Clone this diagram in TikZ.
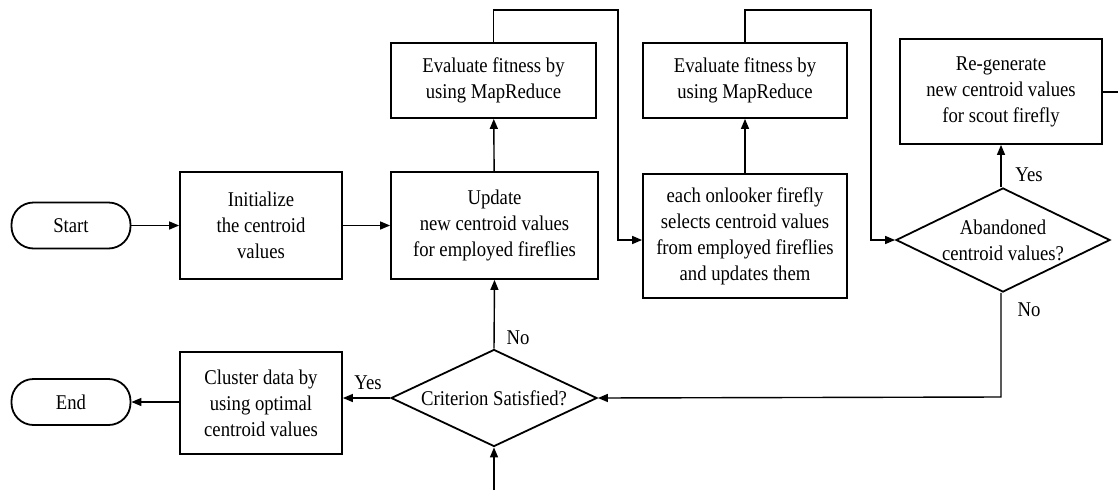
\documentclass[tikz,border=0pt]{standalone}
\usepackage{fontspec}
\setmainfont{Liberation Serif}[FakeStretch=0.89]
\usetikzlibrary{shapes.geometric,arrows.meta}
\begin{document}
\begin{tikzpicture}[x=1pt,y=-1pt,
  every node/.style={font=\fontsize{21}{26}\selectfont},
  box/.style={draw,line width=1.8pt,align=center,inner sep=0pt},
  term/.style={draw,line width=1.8pt,rounded corners=22pt,minimum width=119pt,minimum height=46pt,inner sep=0pt},
  dec/.style={draw,line width=1.8pt,diamond,shape aspect=2.2,inner sep=0pt,align=center},
  conn/.style={line width=1.4pt,-{Triangle[length=10pt,width=8pt]}},
  plain/.style={line width=1.4pt},
  lbl/.style={inner sep=0pt}
]
\useasboundingbox (0,0) rectangle (1118,490);
\node[term] (start) at (71,225.5) {Start};
\node[box,minimum width=162pt,minimum height=107pt] (init) at (261,225.5) {Initialize\\the centroid\\values};
\node[box,minimum width=207pt,minimum height=107pt] (update) at (494.5,225.5) {Update\\new centroid values\\for employed fireflies};
\node[box,minimum width=205pt,minimum height=75pt] (eval1) at (493.5,80.5) {Evaluate fitness by\\using MapReduce};
\node[box,minimum width=204pt,minimum height=124pt] (onlook) at (745,236) {each onlooker firefly\\selects centroid values\\from employed fireflies\\and updates them};
\node[box,minimum width=204pt,minimum height=75pt] (eval2) at (745,80.5) {Evaluate fitness by\\using MapReduce};
\node[box,minimum width=202pt,minimum height=105pt] (regen) at (1001,91.5) {Re-generate\\new centroid values\\for scout firefly};
\node[dec,minimum width=214pt,minimum height=104pt] (aband) at (1003,240) {Abandoned\\centroid values?};
\node[dec,minimum width=206pt,minimum height=97pt] (crit) at (494,398) {Criterion Satisfied?};
\node[box,minimum width=162pt,minimum height=102pt] (clust) at (261,403) {Cluster data by\\using optimal\\centroid values};
\node[term] (end) at (71,402) {End};

\coordinate (t1) at (618,10);
\coordinate (t2) at (871,10);
\coordinate (redge) at (1118,92);
\coordinate (bedge) at (494,490);
\coordinate (tb) at (1001,397);

\draw[conn] (start) -- (init);
\draw[conn] (init) -- (update);
\draw[conn] (update) -- (eval1);
\draw[conn] (eval1.north) |- (t1) -- (t1 |- 0,240) -- (onlook.west |- 0,240);
\draw[conn] (onlook) -- (eval2);
\draw[conn] (eval2.north) |- (t2) -- (t2 |- aband.west) -- (aband.west);
\draw[conn] (aband.north -| regen.south) -- (regen.south);
\draw[plain] (regen.east |- redge) -- (redge);
\draw[conn] (aband.south -| tb) -- (tb) -- (crit.east);
\draw[conn] (crit.north) -- (update.south);
\draw[conn] (crit.west) -- (clust.east |- crit.west);
\draw[conn] (clust.west |- end.east) -- (end.east);
\draw[conn] (bedge) -- (crit.south);

\node[lbl] (yes1) at (1029,175) {Yes};
\node[lbl] (no1) at (1029,310) {No};
\node[lbl] (no2) at (518,338) {No};
\node[lbl] (yes2) at (368,383) {Yes};
\end{tikzpicture}
\end{document}
